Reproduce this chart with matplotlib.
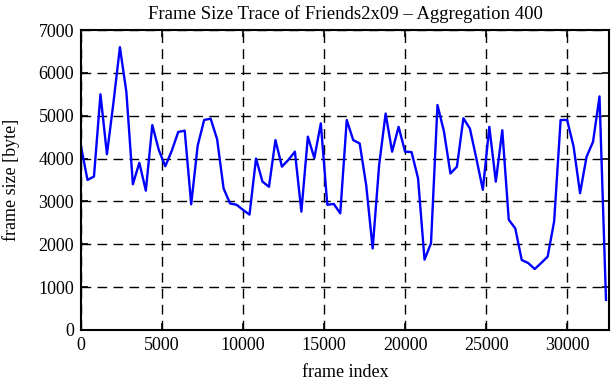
import matplotlib
matplotlib.use('Agg')
import matplotlib.pyplot as plt

# frame sizes, aggregated over 400 frames
step = 400
frame_size = [4280, 3500, 3580, 5500, 4100, 5300, 6600, 5550, 3400, 3900,
              3250, 4780, 4200, 3820, 4180, 4620, 4650, 2930, 4300, 4900,
              4930, 4450, 3300, 2950, 2920, 2800, 2690, 4000, 3460, 3340,
              4430, 3810, 3970, 4160, 2760, 4510, 4010, 4820, 2920, 2940,
              2720, 4900, 4430, 4350, 3380, 1900, 3850, 5050, 4160, 4740,
              4160, 4150, 3540, 1640, 2020, 5250, 4630, 3650, 3810, 4940,
              4700, 4000, 3270, 4740, 3460, 4660, 2570, 2370, 1630, 1560,
              1420, 1560, 1710, 2530, 4900, 4900, 4280, 3190, 4040, 4390,
              5450, 700]
frame_index = [i * step for i in range(len(frame_size))]

x_ticks = [0, 5000, 10000, 15000, 20000, 25000, 30000]
y_ticks = [0, 1000, 2000, 3000, 4000, 5000, 6000, 7000]

plt.rcParams['font.family'] = ['Liberation Serif', 'DejaVu Serif']
plt.rcParams['font.size'] = 13

fig = plt.figure(figsize=(6.11, 3.80), dpi=100)
ax = fig.add_axes([0.1326, 0.132, 0.8645, 0.789])

ax.plot(frame_index, frame_size, color='#0000ff', linewidth=1.7)

ax.set_xlim(0, 32600)
ax.set_ylim(0, 7000)
ax.set_xticks(x_ticks)
ax.set_yticks(y_ticks)
ax.tick_params(direction='in', top=True, right=True, length=5, width=1.2, pad=5)

ax.grid(True, color='black', linestyle=(0, (7, 4.5)), linewidth=1.0)
for s in ax.spines.values():
    s.set_linewidth(1.5)

ax.set_title('Frame Size Trace of Friends2x09 \u2013 Aggregation 400', fontsize=13.5, pad=8)
ax.set_xlabel('frame index', labelpad=7)
ax.set_ylabel('frame size [byte]', labelpad=13)

fig.savefig('out.png', dpi=100)
